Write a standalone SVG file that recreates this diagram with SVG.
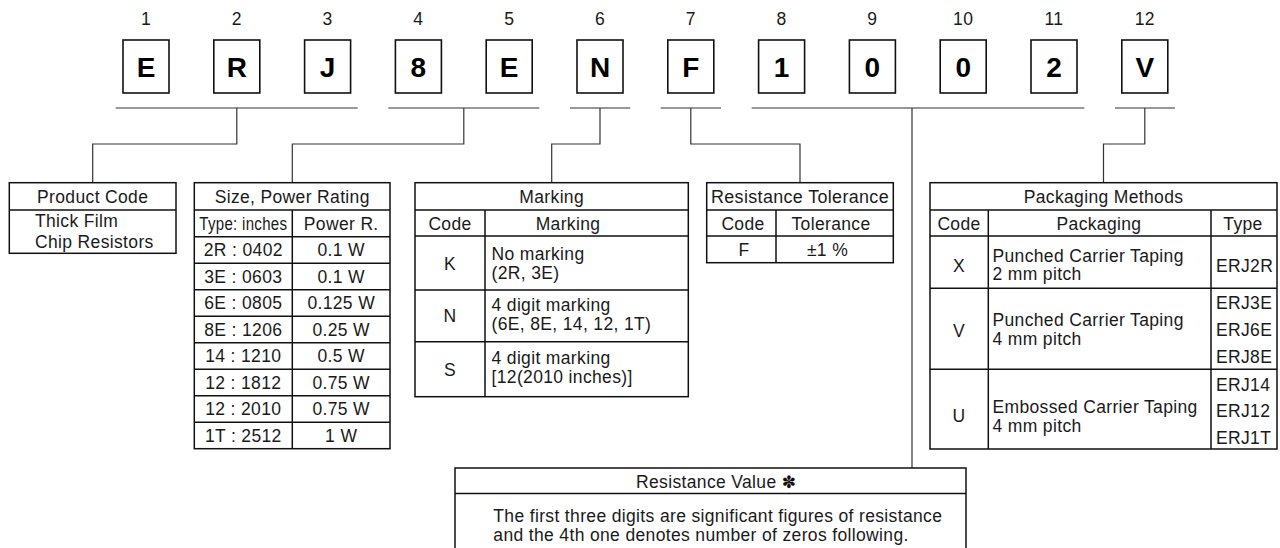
<svg xmlns="http://www.w3.org/2000/svg" width="1280" height="548" viewBox="0 0 1280 548">
<style>
.t{font-family:"Liberation Sans",Arial,sans-serif;font-size:17.5px;letter-spacing:0.35px;fill:#1a1a1a}
.c{text-anchor:middle}
.big{font-family:"Liberation Sans",Arial,sans-serif;font-weight:bold;font-size:28px;text-anchor:middle;fill:#000}
.box{fill:#fff;stroke:#111;stroke-width:1.6}
.tbl{fill:#fff;stroke:#111;stroke-width:1.5}
.ln{fill:none;stroke:#111;stroke-width:1.5}
.wire{fill:none;stroke:#333;stroke-width:1.2}
.ast{font-family:"DejaVu Sans",sans-serif;font-size:17px;fill:#111}
</style>
<rect width="1280" height="548" fill="#fff"/>

<g id="digits">
<g id="d1"><text class="t c" x="146" y="25">1</text><rect class="box" x="123" y="40" width="46" height="53"/><text class="big" x="146" y="76.5">E</text></g>
<g id="d2"><text class="t c" x="236.8" y="25">2</text><rect class="box" x="213.8" y="40" width="46" height="53"/><text class="big" x="236.8" y="76.5">R</text></g>
<g id="d3"><text class="t c" x="327.6" y="25">3</text><rect class="box" x="304.6" y="40" width="46" height="53"/><text class="big" x="327.6" y="76.5">J</text></g>
<g id="d4"><text class="t c" x="418.4" y="25">4</text><rect class="box" x="395.4" y="40" width="46" height="53"/><text class="big" x="418.4" y="76.5">8</text></g>
<g id="d5"><text class="t c" x="509.2" y="25">5</text><rect class="box" x="486.2" y="40" width="46" height="53"/><text class="big" x="509.2" y="76.5">E</text></g>
<g id="d6"><text class="t c" x="600" y="25">6</text><rect class="box" x="577" y="40" width="46" height="53"/><text class="big" x="600" y="76.5">N</text></g>
<g id="d7"><text class="t c" x="690.8" y="25">7</text><rect class="box" x="667.8" y="40" width="46" height="53"/><text class="big" x="690.8" y="76.5">F</text></g>
<g id="d8"><text class="t c" x="781.6" y="25">8</text><rect class="box" x="758.6" y="40" width="46" height="53"/><text class="big" x="781.6" y="76.5">1</text></g>
<g id="d9"><text class="t c" x="872.4" y="25">9</text><rect class="box" x="849.4" y="40" width="46" height="53"/><text class="big" x="872.4" y="76.5">0</text></g>
<g id="d10"><text class="t c" x="963.2" y="25">10</text><rect class="box" x="940.2" y="40" width="46" height="53"/><text class="big" x="963.2" y="76.5">0</text></g>
<g id="d11"><text class="t c" x="1054" y="25">11</text><rect class="box" x="1031" y="40" width="46" height="53"/><text class="big" x="1054" y="76.5">2</text></g>
<g id="d12"><text class="t c" x="1144.8" y="25">12</text><rect class="box" x="1121.8" y="40" width="46" height="53"/><text class="big" x="1144.8" y="76.5">V</text></g>
</g>

<g id="connectors">
<path class="wire" d="M115.7 108H357.7M236.8 108V144H92.7V182.7"/>
<path class="wire" d="M388.3 108H539.3M463.8 108V144H292.3V182.7"/>
<path class="wire" d="M570 108H630.3M600 108V144H551.7V182.7"/>
<path class="wire" d="M660.7 108H721M690.8 108V144H800V182.7"/>
<path class="wire" d="M751.7 108H1084.3M912 108V468"/>
<path class="wire" d="M1115 108H1175M1144.8 108V144H1103.5V182.7"/>
</g>

<g id="product-code">
<rect class="tbl" x="9.3" y="182.7" width="166.7" height="70.6"/>
<path class="ln" d="M9.3 210H176"/>
<text class="t c" x="92.7" y="203">Product Code</text>
<text class="t" x="35" y="227">Thick Film</text>
<text class="t" x="35" y="248">Chip Resistors</text>
</g>

<g id="size-power">
<rect class="tbl" x="194.3" y="182.7" width="195.7" height="266"/>
<path class="ln" d="M194.3 210H390M194.3 236.7H390M194.3 263.2H390M194.3 289.7H390M194.3 316.2H390M194.3 342.7H390M194.3 369.2H390M194.3 395.7H390M194.3 422.2H390M292.3 210V448.7"/>
<text class="t c" x="292.2" y="203">Size, Power Rating</text>
<text class="t c" x="243.3" y="229.5" textLength="88" lengthAdjust="spacingAndGlyphs">Type: inches</text>
<text class="t c" x="341.2" y="229.5">Power R.</text>
<text class="t c" x="243.3" y="256">2R : 0402</text><text class="t c" x="341.2" y="256">0.1 W</text>
<text class="t c" x="243.3" y="282.5">3E : 0603</text><text class="t c" x="341.2" y="282.5">0.1 W</text>
<text class="t c" x="243.3" y="309">6E : 0805</text><text class="t c" x="341.2" y="309">0.125 W</text>
<text class="t c" x="243.3" y="335.5">8E : 1206</text><text class="t c" x="341.2" y="335.5">0.25 W</text>
<text class="t c" x="243.3" y="362">14 : 1210</text><text class="t c" x="341.2" y="362">0.5 W</text>
<text class="t c" x="243.3" y="388.5">12 : 1812</text><text class="t c" x="341.2" y="388.5">0.75 W</text>
<text class="t c" x="243.3" y="415">12 : 2010</text><text class="t c" x="341.2" y="415">0.75 W</text>
<text class="t c" x="243.3" y="441.5">1T : 2512</text><text class="t c" x="341.2" y="441.5">1 W</text>
</g>

<g id="marking">
<rect class="tbl" x="415" y="182.7" width="273.3" height="214"/>
<path class="ln" d="M415 210H688.3M415 236H688.3M415 290H688.3M415 341.7H688.3M485 210V396.7"/>
<text class="t c" x="551.7" y="203">Marking</text>
<text class="t c" x="450" y="229.5">Code</text>
<text class="t c" x="568" y="229.5">Marking</text>
<text class="t c" x="450" y="269.5">K</text>
<text class="t" x="491.5" y="259.5">No marking</text>
<text class="t" x="491.5" y="278.5">(2R, 3E)</text>
<text class="t c" x="450" y="322">N</text>
<text class="t" x="491.5" y="311">4 digit marking</text>
<text class="t" x="491.5" y="330">(6E, 8E, 14, 12, 1T)</text>
<text class="t c" x="450" y="375.5">S</text>
<text class="t" x="491.5" y="364">4 digit marking</text>
<text class="t" x="491.5" y="383">[12(2010 inches)]</text>
</g>

<g id="tolerance">
<rect class="tbl" x="706.7" y="182.7" width="186.6" height="80"/>
<path class="ln" d="M706.7 210H893.3M706.7 236H893.3M776 210V262.7"/>
<text class="t c" x="800" y="203" textLength="178" lengthAdjust="spacingAndGlyphs">Resistance Tolerance</text>
<text class="t c" x="743" y="229.5">Code</text>
<text class="t c" x="831" y="229.5">Tolerance</text>
<text class="t c" x="744" y="256">F</text>
<text class="t c" x="827.5" y="256">±1 %</text>
</g>

<g id="packaging">
<rect class="tbl" x="930" y="182.7" width="347" height="266.3"/>
<path class="ln" d="M930 210H1277M930 236H1277M930 288.3H1277M930 369.3H1277M988.3 210V449M1211 210V449"/>
<text class="t c" x="1103.5" y="203">Packaging Methods</text>
<text class="t c" x="959" y="229.5">Code</text>
<text class="t c" x="1099" y="229.5">Packaging</text>
<text class="t c" x="1243" y="229.5">Type</text>
<text class="t c" x="959" y="271.5">X</text>
<text class="t" x="992.5" y="261.5">Punched Carrier Taping</text>
<text class="t" x="992.5" y="280">2 mm pitch</text>
<text class="t" x="1216" y="271.5">ERJ2R</text>
<text class="t c" x="959" y="336.5">V</text>
<text class="t" x="992.5" y="326">Punched Carrier Taping</text>
<text class="t" x="992.5" y="344.5">4 mm pitch</text>
<text class="t" x="1216" y="308.5">ERJ3E</text>
<text class="t" x="1216" y="335.5">ERJ6E</text>
<text class="t" x="1216" y="362.5">ERJ8E</text>
<text class="t c" x="959" y="421.5">U</text>
<text class="t" x="992.5" y="413">Embossed Carrier Taping</text>
<text class="t" x="992.5" y="431.5">4 mm pitch</text>
<text class="t" x="1216" y="390.5">ERJ14</text>
<text class="t" x="1216" y="416.5">ERJ12</text>
<text class="t" x="1216" y="443.5">ERJ1T</text>
</g>

<g id="resistance-value">
<path class="tbl" d="M455 552V468H966V552"/>
<path class="ln" d="M455 493.5H966"/>
<text class="t" x="636" y="487.5">Resistance Value <tspan class="ast">✽</tspan></text>
<text class="t" x="493.3" y="521.5">The first three digits are significant figures of resistance</text>
<text class="t" x="493.3" y="540.5">and the 4th one denotes number of zeros following.</text>
</g>
</svg>
